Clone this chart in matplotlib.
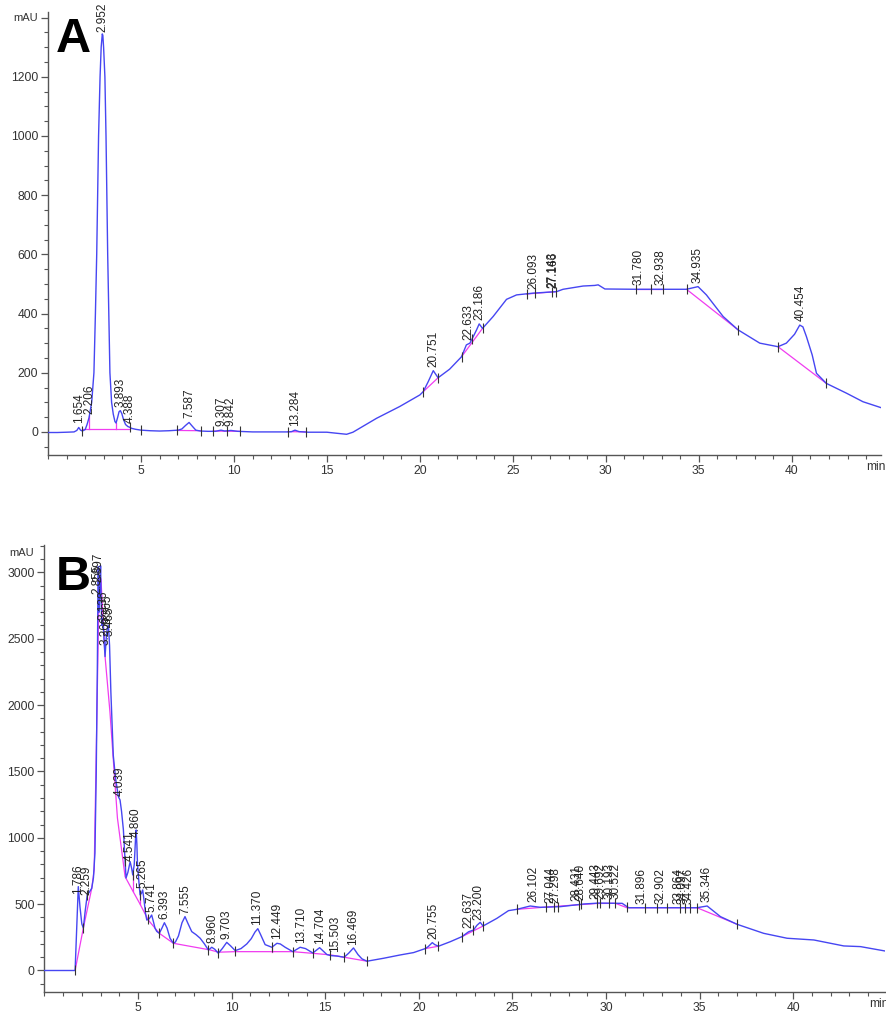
import numpy as np
import matplotlib
matplotlib.use('Agg')
import matplotlib.pyplot as plt
from matplotlib.ticker import MultipleLocator

plt.rcParams['font.family'] = ['Liberation Sans', 'DejaVu Sans']

# ---------------- Panel A data ----------------
a_time = [0, 0.5, 1.0, 1.4, 1.55, 1.654, 1.75, 1.85, 2.0, 2.1, 2.206, 2.35, 2.47, 2.55,
          2.62, 2.72, 2.80, 2.86, 2.92, 2.95, 2.99, 3.06, 3.12, 3.21, 3.33, 3.42, 3.51,
          3.60, 3.66, 3.75, 3.82, 3.89, 3.97, 4.06, 4.17, 4.3, 4.388, 4.5, 4.7, 5.0, 5.5,
          6.0, 6.5, 7.0, 7.2, 7.4, 7.587, 7.75, 7.95, 8.2, 8.6, 9.0, 9.307, 9.5, 9.842,
          10.2, 11, 12, 12.9, 13.1, 13.284, 13.5, 14, 15, 15.52, 16.06, 16.4, 17.67, 18.92,
          20.0, 20.18, 20.45, 20.72, 20.98, 21.6, 22.24, 22.5, 22.69, 22.87, 23.05, 23.19,
          23.37, 23.94, 24.66, 25.2, 26.09, 27.35, 27.7, 28.78, 29.4, 29.59, 29.95, 31.65,
          34.34, 34.96, 35.41, 36.31, 37.11, 38.28, 39.26, 39.71, 40.15, 40.43, 40.6, 40.79,
          41.1, 41.33, 41.86, 42.94, 43.83, 44.8]
a_mau = [-2, -2, -1, 0, 5, 15, 6, 3, 8, 25, 48, 100, 200, 400,
         600, 1000, 1200, 1300, 1345, 1340, 1300, 1200, 1000, 600, 200, 100, 60,
         35, 30, 50, 68, 72, 62, 42, 25, 18, 16, 12, 9, 6, 4,
         3, 4, 6, 10, 22, 32, 20, 6, 3, 2, 2, 6, 3, 5,
         2, 0, 0, 0, 1, 6, 1, -1, -1, -4.5, -8, -1, 46, 86,
         125, 136, 170, 207, 183, 212, 254, 294, 300, 322, 345, 365,
         350, 390, 448, 463, 469, 474, 482, 493, 495, 497, 483, 482,
         482, 491, 463, 390, 345, 300, 288, 300, 330, 361, 355, 322,
         260, 198, 164, 131, 102, 82]

a_baselines = [
    ([1.81, 4.40], [9, 9]),
    ([6.92, 8.23], [5, 4]),
    ([8.88, 10.3], [3, 2]),
    ([12.9, 13.9], [1, 0]),
    ([20.18, 20.98], [136, 183]),
    ([22.24, 23.37], [254, 350]),
    ([25.74, 27.31], [466, 474]),
    ([31.65, 33.05], [482, 482]),
    ([34.34, 37.11], [482, 345]),
    ([39.26, 41.86], [288, 164]),
]
a_drop_times = [2.22, 3.66]
a_bound_times = [1.81, 4.40, 5.0, 6.92, 8.23, 8.88, 9.6, 10.3, 12.9, 13.9,
                 20.18, 20.98, 22.24, 22.8, 23.37, 25.74, 26.18, 27.08, 27.31,
                 31.65, 32.45, 33.05, 34.34, 37.11, 39.26, 41.86]
a_labels = ['1.654', '2.206', '2.952', '3.893', '4.388', '7.587', '9.307', '9.842',
            '13.284', '20.751', '22.633', '23.186', '26.093', '27.143', '27.166',
            '31.780', '32.938', '34.935', '40.454']

# ---------------- Panel B data ----------------
b_time = [0, 1.0, 1.5, 1.64, 1.72, 1.81, 1.9, 2.0, 2.08, 2.18, 2.29, 2.4, 2.53, 2.62,
          2.70, 2.77, 2.83, 2.86, 2.88, 2.92, 2.97, 3.00, 3.03, 3.06, 3.10, 3.15, 3.20,
          3.24, 3.30, 3.36, 3.42, 3.48, 3.55, 3.68, 3.80, 3.95, 4.04, 4.12, 4.22, 4.30,
          4.36, 4.46, 4.58, 4.66, 4.72, 4.80, 4.87, 4.90, 4.94, 4.97, 5.04, 5.11, 5.18,
          5.25, 5.33, 5.40, 5.47, 5.60, 5.73, 5.82, 5.91, 6.00, 6.14, 6.28, 6.41, 6.55,
          6.71, 6.89, 7.00, 7.16, 7.35, 7.51, 7.65, 7.87, 8.1, 8.32, 8.55, 8.76, 8.94,
          9.1, 9.29, 9.5, 9.74, 9.95, 10.19, 10.5, 10.81, 11.05, 11.25, 11.4, 11.55,
          11.79, 12.15, 12.42, 12.6, 12.86, 13.27, 13.66, 13.95, 14.34, 14.7, 15.09,
          15.3, 15.62, 16.01, 16.25, 16.51, 16.75, 16.96, 17.23, 18.11, 19.0, 19.72,
          20.34, 20.5, 20.72, 20.85, 21.05, 21.68, 22.3, 22.66, 22.92, 23.1, 23.28,
          23.43, 24.17, 24.79, 25.24, 25.95, 26.49, 27.56, 28.8, 29.6, 30.86, 31.21,
          32.19, 34.86, 35.4, 36.11, 37.0, 38.42, 39.67, 41.1, 42.7, 43.59, 44.9]
b_mau = [0, 0, 0, 0, 300, 632, 480, 350, 320, 450, 570, 590, 620, 700,
         885, 1500, 2317, 2900, 3043, 2700, 2900, 3050, 2800, 2600, 2650, 2590, 2450,
         2365, 2500, 2580, 2600, 2450, 2100, 1620, 1450, 1310, 1285, 1200, 1059, 850,
         697, 740, 820, 770, 720, 800, 1000, 1059, 950, 810, 680, 570, 580,
         607, 520, 430, 380, 390, 418, 370, 318, 295, 280, 320, 360, 320,
         243, 205, 215, 260, 360, 406, 360, 293, 270, 243, 200, 154, 175,
         160, 130, 165, 212, 185, 150, 165, 200, 240, 290, 315, 270,
         195, 175, 205, 200, 175, 142, 175, 165, 132, 172, 120,
         112, 109, 100, 130, 170, 120, 88, 70, 92, 117, 135,
         165, 180, 210, 195, 183, 217, 255, 292, 305, 340, 363,
         335, 393, 451, 461, 486, 476, 481, 501, 508, 506, 473,
         473, 473, 486, 406, 348, 280, 243, 230, 185, 180, 147]

b_baselines = [
    ([1.64, 2.08, 2.53, 2.66, 2.93], [0, 320, 620, 760, 2950]),
    ([3.02, 3.25, 3.5, 3.9, 4.31, 4.72, 5.11, 5.55, 6.14, 6.89, 8.85, 9.29, 10.19,
      13.27, 15.27, 16.01, 17.23],
     [2950, 2350, 1950, 1150, 707, 600, 500, 380, 280, 205, 155, 138, 142,
      142, 118, 100, 70]),
    ([20.34, 21.05], [165, 183]),
    ([22.3, 23.43], [255, 335]),
    ([25.24, 26.8, 28.5, 29.5, 30.5, 31.12, 34.86, 37.0],
     [461, 478, 495, 505, 506, 473, 473, 348]),
]
b_drop_times = [4.72, 5.11, 12.15, 15.27]
b_bound_times = [1.64, 2.08, 2.29, 4.31, 4.72, 5.11, 5.55, 6.14, 6.89, 8.76, 9.29,
                 10.19, 12.15, 13.27, 14.34, 15.27, 16.01, 17.23, 20.34, 21.05, 22.3,
                 22.92, 23.43, 25.24, 26.8, 27.2, 27.41, 28.53, 28.68, 29.52, 29.66,
                 30.14, 30.5, 31.12, 32.1, 32.73, 33.26, 33.97, 34.24, 34.47, 34.86, 37.0]
b_labels = ['1.786', '2.259', '2.855', '2.897', '3.136', '3.266', '3.365', '3.465',
            '4.039', '4.541', '4.860', '5.265', '5.741', '6.393', '7.555', '8.960',
            '9.703', '11.370', '12.449', '13.710', '14.704', '15.503', '16.469',
            '20.755', '22.637', '23.200', '26.102', '27.044', '27.298', '28.431',
            '28.640', '29.443', '29.692', '30.193', '30.522', '31.896', '32.902',
            '33.864', '34.097', '34.426', '35.346']

TRACE = '#4646f2'
BASE = '#f03cf0'
INK = '#333333'


def draw_panel(ax, t, v, baselines, drops, bounds, labels, ylim, xlim,
               ymajor, yminor, yticks_labeled):
    t = np.asarray(t, float)
    v = np.asarray(v, float)
    for bt, bv in baselines:
        ax.plot(bt, bv, color=BASE, lw=0.9, zorder=2)
    for dt in drops:
        bottom = None
        for bt, bv in baselines:
            if bt[0] <= dt <= bt[-1]:
                bottom = np.interp(dt, bt, bv)
        top = np.interp(dt, t, v)
        ax.plot([dt, dt], [bottom, top], color=BASE, lw=0.9, zorder=2)
    ax.plot(t, v, color=TRACE, lw=1.0, zorder=3)
    bt = np.asarray(bounds, float)
    ax.plot(bt, np.interp(bt, t, v), ls='none', marker='|', ms=7, mew=0.8,
            color=INK, zorder=4)
    for lbl in labels:
        rt = float(lbl)
        ax.annotate(lbl, xy=(rt, np.interp(rt, t, v)), xytext=(0, 3),
                    textcoords='offset points', rotation=90, ha='center',
                    va='bottom', fontsize=8.5, color='#222222', clip_on=False,
                    zorder=5)
    ax.set_xlim(*xlim)
    ax.set_ylim(*ylim)
    for s in ['top', 'right']:
        ax.spines[s].set_visible(False)
    for s in ['left', 'bottom']:
        ax.spines[s].set_color('#555555')
        ax.spines[s].set_linewidth(1.0)
    ax.xaxis.set_major_locator(MultipleLocator(5))
    ax.xaxis.set_minor_locator(MultipleLocator(1))
    ax.set_xticks([5, 10, 15, 20, 25, 30, 35, 40])
    ax.set_yticks(ymajor)
    ax.set_yticklabels(yticks_labeled)
    ax.yaxis.set_minor_locator(MultipleLocator(yminor))
    ax.tick_params(axis='both', which='major', direction='out', length=5,
                   width=0.9, color='#555555', labelsize=8.7, labelcolor=INK, pad=2)
    ax.tick_params(axis='both', which='minor', direction='out', length=3,
                   width=0.8, color='#555555')


fig = plt.figure(figsize=(8.87, 10.15), dpi=100)
W, H = 887.0, 1015.0

axA = fig.add_axes([48 / W, 1 - 455 / H, (881 - 48) / W, (455 - 12) / H])
a_major = [0, 200, 400, 600, 800, 1000, 1200, 1400]
draw_panel(axA, a_time, a_mau, a_baselines, a_drop_times, a_bound_times, a_labels,
           ylim=(-78, 1419), xlim=(0, 44.8), ymajor=a_major, yminor=50,
           yticks_labeled=[str(y) for y in a_major[:-1]] + [''])

axB = fig.add_axes([44.4 / W, 1 - 992 / H, (885 - 44.4) / W, (992 - 545) / H])
b_major = [0, 500, 1000, 1500, 2000, 2500, 3000]
draw_panel(axB, b_time, b_mau, b_baselines, b_drop_times, b_bound_times, b_labels,
           ylim=(-162, 3206), xlim=(0, 44.9), ymajor=b_major, yminor=100,
           yticks_labeled=[str(y) for y in b_major])

# unit labels
fig.text(38 / W, 1 - 18 / H, 'mAU', ha='right', va='center', fontsize=8, color=INK)
fig.text(34 / W, 1 - 553 / H, 'mAU', ha='right', va='center', fontsize=8, color=INK)
fig.text(866 / W, 1 - 467 / H, 'min', ha='left', va='center', fontsize=8.7, color=INK)
fig.text(869 / W, 1 - 1004 / H, 'min', ha='left', va='center', fontsize=8.7, color=INK)

# panel letters
fig.text(56 / W, 1 - 52 / H, 'A', ha='left', va='baseline', fontsize=35,
         fontweight='bold', color='black')
fig.text(56 / W, 1 - 590 / H, 'B', ha='left', va='baseline', fontsize=35,
         fontweight='bold', color='black')

fig.savefig('out.png', dpi=100)
